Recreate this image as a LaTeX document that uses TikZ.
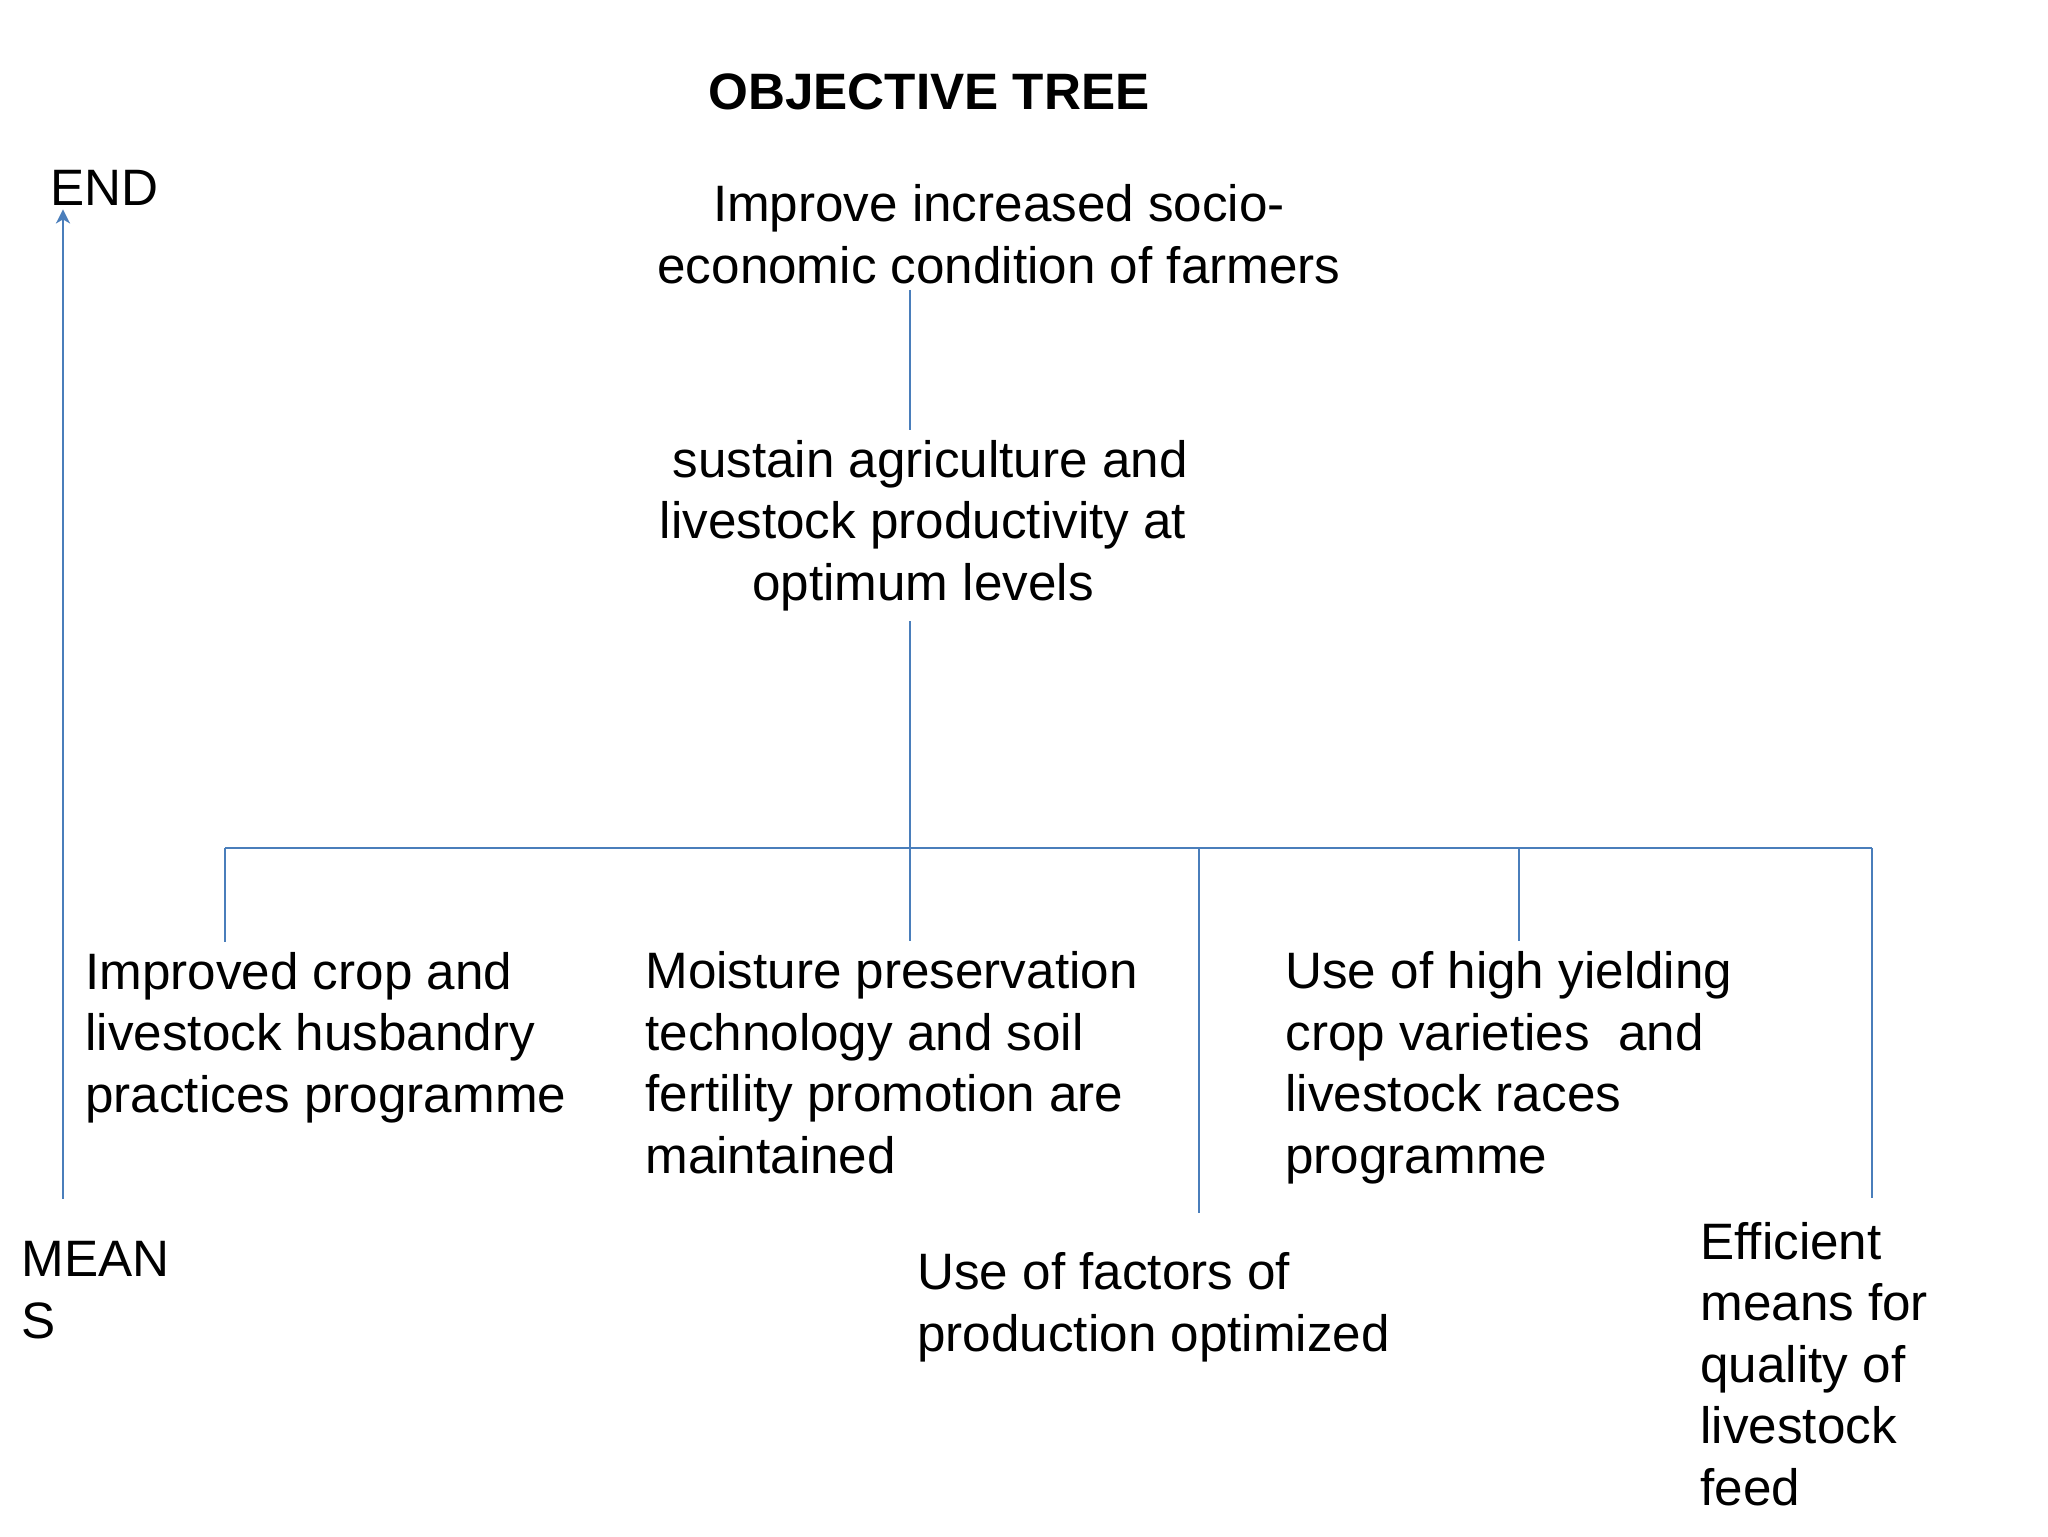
\documentclass[tikz,border=0pt]{standalone}
\usepackage{fontspec}
\setmainfont{Liberation Sans}
\usetikzlibrary{arrows.meta}
\definecolor{lineblue}{HTML}{4A7EBB}
\begin{document}
\begin{tikzpicture}[x=0.5pt,y=-0.5pt,
  txt/.style={font=\fontsize{25.6}{30.7}\selectfont, inner xsep=0pt, inner ysep=5pt, align=left, anchor=base west},
  ctxt/.style={txt, align=center, anchor=base},
  conn/.style={draw=lineblue, line width=1pt}]
\useasboundingbox[fill=white] (0,0) rectangle (2048,1536);
% multi-line nodes: base anchor = baseline of the last line
\node[font=\fontsize{25.6}{30.7}\selectfont\bfseries, anchor=base] (title) at (929,110) {OBJECTIVE TREE};
\node[txt] (end) at (50,205) {END};
\node[txt] (means) at (21,1338) {MEAN\\S};
\node[ctxt] (n1) at (999,283) {Improve increased socio-\\economic condition of farmers};
\node[ctxt] (n2) at (923,600) {\ sustain agriculture and\\livestock productivity at\\optimum levels\ };
\node[txt] (c1) at (85,1112) {Improved crop and\\livestock husbandry\\practices programme};
\node[txt] (c2) at (645,1173) {Moisture preservation\\technology and soil\\fertility promotion are\\maintained};
\node[txt] (c4) at (1285,1173) {Use of high yielding\\crop varieties \ and\\livestock races\\programme};
\node[txt] (c3) at (917,1351) {Use of factors of\\production optimized};
\node[txt] (c5) at (1700,1505) {Efficient\\means for\\quality of\\livestock\\feed};
\coordinate (j0) at (910,848);
\coordinate (bl) at (225,848);
\coordinate (br) at (1872,848);
\coordinate (j3) at (1199,848);
\coordinate (j4) at (1519,848);
\coordinate (ax) at (63,0);
\draw[conn, shorten <=-2pt] (n1.south -| j0) -- (n2.north -| j0);
\draw[conn] (n2.south -| j0) -- (j0);
\draw[conn] (bl) -- (br);
\draw[conn] (bl) -- (c1.north -| bl);
\draw[conn] (j0) -- (c2.north -| j0);
\draw[conn, shorten >=14.5pt] (j3) -- (c3.north -| j3);
\draw[conn] (j4) -- (c4.north -| j4);
\draw[conn, shorten >=7pt] (br) -- (c5.north -| br);
\draw[conn, line width=1.3pt, -{Stealth[length=7pt,width=7pt,inset=2pt]}, shorten <=16pt, shorten >=-3pt] (means.north -| ax) -- (end.south -| ax);
\end{tikzpicture}
\end{document}
